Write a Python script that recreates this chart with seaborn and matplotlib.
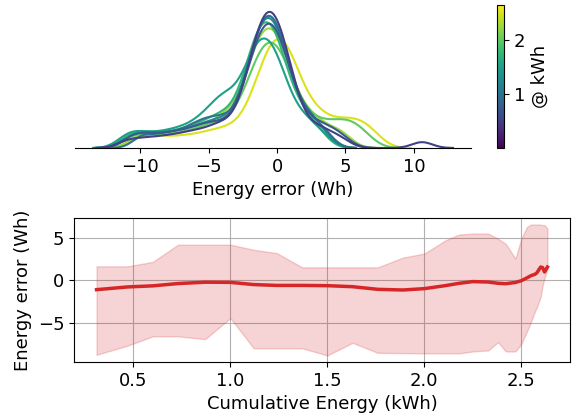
import matplotlib
matplotlib.use("Agg")
import matplotlib.pyplot as plt
import pandas as pd
import seaborn as sns

# Cumulative energy levels (kWh) for each error distribution
KWH_LEVELS = [0.5, 0.75, 1.0, 1.25, 1.5, 1.75, 2.0, 2.25, 2.5]

# Energy error samples (Wh) per level
ERR_050 = [-3.67, -3.07, -2.75, -2.51, -2.33, -2.17, -2.04, -1.91, -1.8, -1.7, -1.6, -1.51,
           -1.42, -1.33, -1.25, -1.17, -1.09, -1.02, -0.94, -0.87, -0.8, -0.73, -0.66, -0.59,
           -0.51, -0.44, -0.37, -0.3, -0.23, -0.16, -0.08, -0.01, 0.07, 0.15, 0.23, 0.32,
           0.41, 0.5, 0.6, 0.7, 0.81, 0.94, 1.07, 1.23, 1.41, 1.65, 1.97, 2.57,
           -3.9, -4.3, -4.8, -5.3, -5.9, -6.5, -7.2, -8.0, -8.9, -9.9, -11.0,
           2.9, 3.4, 4.0, 4.8, 10.6]
ERR_075 = [-3.35, -2.67, -2.3, -2.02, -1.8, -1.6, -1.42, -1.26, -1.11, -0.96, -0.81, -0.67,
           -0.53, -0.39, -0.24, -0.09, 0.06, 0.22, 0.4, 0.6, 0.82, 1.1, 1.47, 2.15,
           -4.2, -4.9, -5.7, -6.7, -7.9, -9.3, -10.6, 2.8, 3.6, 4.6]
ERR_100 = [-3.3, -2.7, -2.28, -2.0, -1.82, -1.58, -1.43, -1.25, -1.1, -0.97, -0.8, -0.68,
           -0.52, -0.4, -0.23, -0.1, 0.07, 0.21, 0.41, 0.59, 0.83, 1.09, 1.46, 2.1,
           -4.0, -4.6, -5.3, -6.0, -7.0, -8.3, -9.8, 2.6, 3.5]
ERR_125 = [-3.4, -2.72, -2.35, -2.07, -1.85, -1.65, -1.47, -1.31, -1.16, -1.01, -0.86, -0.72,
           -0.58, -0.44, -0.29, -0.14, 0.01, 0.17, 0.35, 0.55, 0.77, 1.05, 1.42, 2.1,
           -4.1, -4.8, -5.6, -6.6, -7.8, -9.2, -10.5, 2.4, 3.3]
ERR_150 = [-3.91, -3.17, -2.78, -2.47, -2.24, -2.03, -1.83, -1.66, -1.49, -1.33, -1.18, -1.03,
           -0.87, -0.72, -0.57, -0.41, -0.24, -0.07, 0.13, 0.34, 0.57, 0.88, 1.27, 2.01,
           -3.6, -4.0, -4.5, -4.9, -5.4, -6.0, -6.8, -7.7, -8.8, -10.0, -11.0, 2.3, 3.3]
ERR_175 = [-3.55, -2.87, -2.5, -2.22, -2.0, -1.8, -1.62, -1.46, -1.31, -1.16, -1.01, -0.87,
           -0.73, -0.59, -0.44, -0.29, -0.14, 0.02, 0.2, 0.4, 0.62, 0.9, 1.27, 1.95,
           -4.0, -4.6, -5.3, -6.1, -7.1, -8.3, -9.6, -10.8, 2.2, 3.1]
ERR_200 = [-3.46, -2.72, -2.33, -2.02, -1.79, -1.58, -1.38, -1.21, -1.04, -0.88, -0.73, -0.58,
           -0.42, -0.27, -0.12, 0.04, 0.21, 0.38, 0.58, 0.79, 1.02, 1.33, 1.72, 2.46,
           -4.1, -4.8, -5.6, -6.6, -7.9, -9.4, -10.6, 2.9, 3.7, 4.4, 5.0, 5.6, 6.3]
ERR_225 = [-3.66, -2.9, -2.49, -2.18, -1.93, -1.71, -1.52, -1.33, -1.16, -1.0, -0.84, -0.68,
           -0.52, -0.36, -0.2, -0.04, 0.13, 0.32, 0.51, 0.73, 0.98, 1.29, 1.7, 2.46,
           -4.0, -4.8, -5.8, -7.0, -8.5, -10.1, 2.8, 3.8, 4.8]
ERR_250 = [-2.76, -2.04, -1.66, -1.37, -1.14, -0.94, -0.75, -0.58, -0.43, -0.27, -0.12, 0.03,
           0.17, 0.32, 0.47, 0.63, 0.78, 0.95, 1.14, 1.34, 1.57, 1.86, 2.24, 2.96,
           -3.6, -4.5, -5.6, -7.0, -8.6, -10.0, 3.0, 3.8, 4.5, 5.1, 5.7, 6.3, 7.0]

# Error band along cumulative energy
CUM_KWH = [0.31, 0.47, 0.60, 0.73, 0.87, 1.00, 1.12, 1.24, 1.37, 1.50, 1.63, 1.76, 1.89, 2.00,
           2.11, 2.18, 2.25, 2.33, 2.38, 2.42, 2.47, 2.50, 2.53, 2.55, 2.57, 2.58, 2.60, 2.61,
           2.62, 2.635]
ERR_MEAN = [-1.1, -0.78, -0.65, -0.38, -0.22, -0.24, -0.5, -0.6, -0.6, -0.63, -0.75, -1.06,
            -1.14, -0.98, -0.62, -0.35, -0.15, -0.2, -0.35, -0.4, -0.25, -0.05, 0.3, 0.55,
            0.71, 0.87, 1.57, 1.5, 0.98, 1.57]
ERR_UPPER = [1.65, 1.65, 2.17, 4.2, 4.2, 4.2, 3.6, 3.2, 1.53, 1.53, 1.53, 1.53, 2.68, 3.15,
             4.72, 5.4, 5.5, 5.5, 4.9, 4.3, 2.56, 4.9, 6.3, 6.57, 6.57, 6.57, 6.57, 6.5, 6.5, 6.1]
ERR_LOWER = [-8.77, -7.7, -6.6, -6.6, -6.93, -4.45, -8.0, -8.0, -8.0, -8.85, -7.36, -8.54,
             -8.58, -8.6, -8.6, -8.6, -8.38, -8.26, -7.28, -8.38, -8.38, -7.5, -6.0, -4.9,
             -3.7, -3.2, -1.96, -0.6, 0.3, 1.3]

KWH_MAX = 2.65

plt.rcParams["font.size"] = 13
plt.rcParams["font.family"] = ["DejaVu Sans"]

samples = [ERR_050, ERR_075, ERR_100, ERR_125, ERR_150, ERR_175, ERR_200, ERR_225, ERR_250]
df = pd.concat([pd.DataFrame({"error": s, "kwh": k}) for s, k in zip(samples, KWH_LEVELS)],
               ignore_index=True)

W, H = 572, 415
fig = plt.figure(figsize=(W / 100, H / 100), dpi=100)
ax1 = fig.add_axes([75 / W, 1 - 148 / H, (471 - 75) / W, 143 / H])
cax = fig.add_axes([497 / W, 1 - 148 / H, 7 / W, 143 / H])
ax2 = fig.add_axes([74 / W, 1 - 362 / H, (570 - 74) / W, 144 / H])

# Top: error distributions coloured by cumulative energy
sns.kdeplot(data=df, x="error", hue="kwh", palette="viridis", hue_norm=(0, KWH_MAX),
            common_norm=False, bw_adjust=0.5, legend=False, linewidth=1.5, ax=ax1)
sns.despine(ax=ax1, left=True)
ax1.set_yticks([])
ax1.set_ylabel("")
ax1.set_xlabel("Energy error (Wh)")

sm = plt.cm.ScalarMappable(cmap="viridis", norm=plt.Normalize(0, KWH_MAX))
cb = fig.colorbar(sm, cax=cax)
cb.set_ticks([1, 2])
cb.set_label("@ kWh")

# Bottom: mean error with min/max band
ax2.fill_between(CUM_KWH, ERR_LOWER, ERR_UPPER, color="tab:red", alpha=0.2)
sns.lineplot(x=CUM_KWH, y=ERR_MEAN, color="tab:red", linewidth=2.5, ax=ax2)
ax2.grid(True)
ax2.set_axisbelow(True)
ax2.set_xlabel("Cumulative Energy (kWh)")
ax2.set_ylabel("Energy error (Wh)")

fig.savefig("out.png", dpi=100)
